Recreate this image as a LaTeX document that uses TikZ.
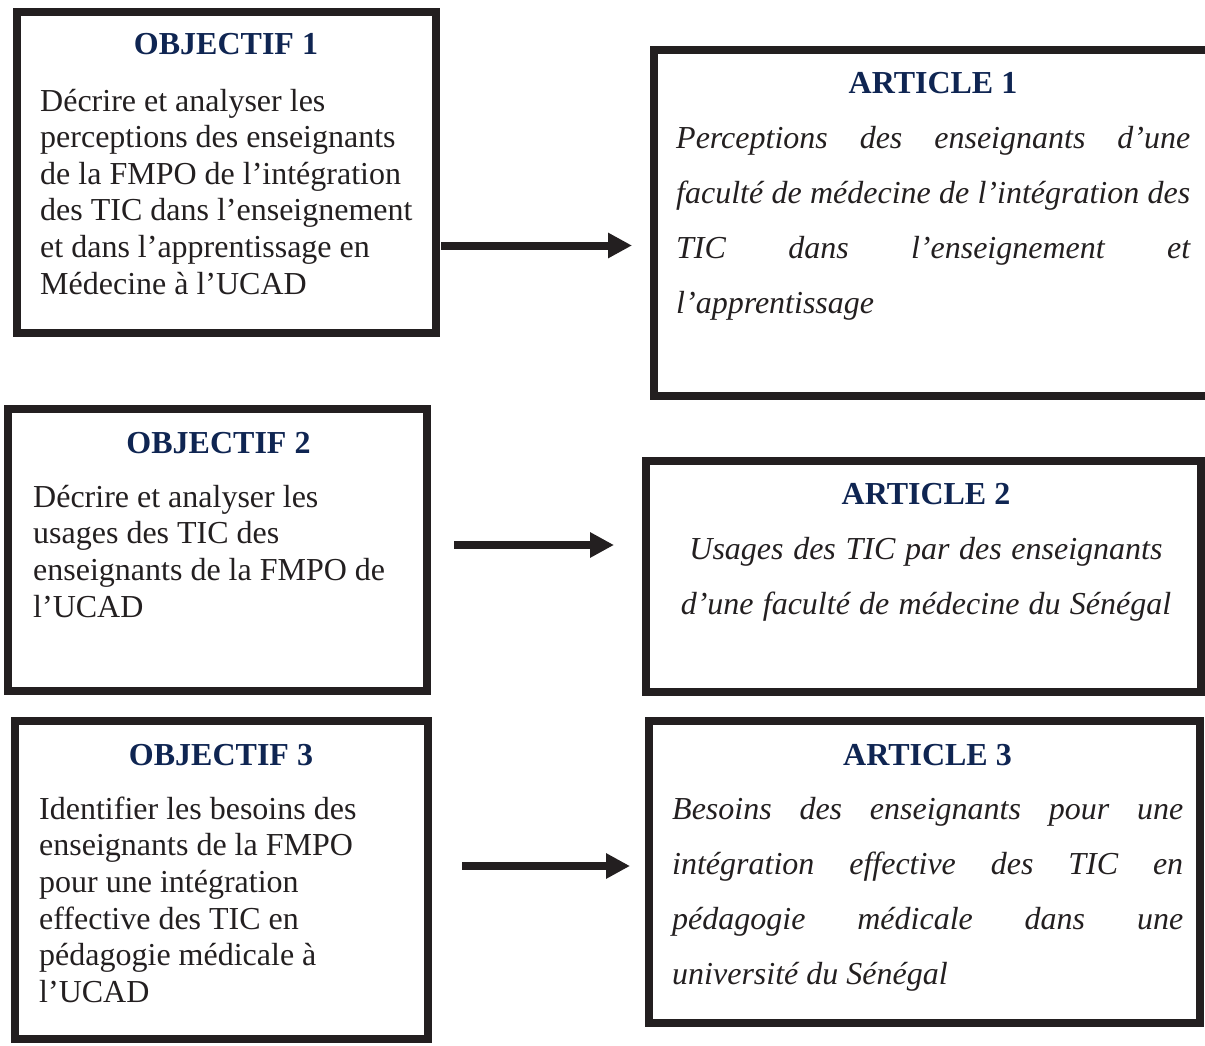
\documentclass[tikz,border=0pt]{standalone}
\usepackage{fontspec}
\setmainfont{Liberation Serif}
\usetikzlibrary{arrows.meta}
\definecolor{boxline}{HTML}{231F20}
\definecolor{titleblue}{HTML}{0F2552}
\tikzset{
  box/.style={rectangle, draw=boxline, line width=8pt, inner sep=0pt},
  boxtitle/.style={anchor=base, inner sep=0pt, text=titleblue,
    font=\fontsize{32pt}{36.6pt}\selectfont\bfseries},
  objtext/.style={anchor=north west, inner sep=0pt, text=boxline, text width=390pt,
    align=left, font=\fontsize{32pt}{36.6pt}\selectfont,
    execute at begin node={\spaceskip=.25em plus .1em\xspaceskip=.25em\rule{0pt}{24pt}}},
  arttext/.style={anchor=north west, inner sep=0pt, text=boxline, align=justify,
    font=\fontsize{32pt}{55pt}\selectfont\itshape,
    execute at begin node={\tolerance=10000\hbadness=10000\spaceskip=.25em plus .1em\rule{0pt}{24pt}}},
  link/.style={draw=boxline, line width=8pt, -{Triangle[length=24pt,width=24pt]}}
}
\begin{document}
\begin{tikzpicture}[x=1pt,y=-1pt]
  \useasboundingbox (0,0) rectangle (1205,1046);
  \clip (0,0) rectangle (1205,1046);

  % Boxes
  \node[box, minimum width=419.5pt, minimum height=321pt] (obj1) at (226.25,172.5) {};
  \node[box, minimum width=558.5pt, minimum height=345pt] (art1) at (932.75,223) {};
  \node[box, minimum width=419pt, minimum height=282pt] (obj2) at (217.5,550) {};
  \node[box, minimum width=555.5pt, minimum height=230.5pt] (art2) at (923.25,576.25) {};
  \node[box, minimum width=413pt, minimum height=318pt] (obj3) at (221,880) {};
  \node[box, minimum width=551pt, minimum height=302pt] (art3) at (924.5,872) {};

  % Titles
  \node[boxtitle] (obj1t) at (226,55) {OBJECTIF 1};
  \node[boxtitle] (art1t) at (933,94) {ARTICLE 1};
  \node[boxtitle] (obj2t) at (218.5,453) {OBJECTIF 2};
  \node[boxtitle] (art2t) at (926,504) {ARTICLE 2};
  \node[boxtitle] (obj3t) at (221,765) {OBJECTIF 3};
  \node[boxtitle] (art3t) at (927.5,765) {ARTICLE 3};

  % Objectives
  \node[objtext] (obj1b) at (40,87) {Décrire et analyser les\\
    perceptions des enseignants\\ de la FMPO de l’intégration\\
    des TIC dans l’enseignement\\ et dans l’apprentissage en\\ Médecine à l’UCAD};
  \node[objtext] (obj2b) at (33,483) {Décrire et analyser les\\
    usages des TIC des\\ enseignants de la FMPO de\\ l’UCAD};
  \node[objtext] (obj3b) at (39,795) {Identifier les besoins des\\
    enseignants de la FMPO\\ pour une intégration\\ effective des TIC en\\
    pédagogie médicale à\\ l’UCAD};

  % Articles
  \node[arttext, text width=514pt] (art1b) at (676,124) {Perceptions des enseignants d’une\linebreak
    faculté de médecine de l’intégration des\linebreak TIC dans l’enseignement et\linebreak
    l’apprentissage};
  \node[arttext, anchor=north, align=center, text width=540pt] (art2b) at (926,535)
    {Usages des TIC par des enseignants\\ d’une faculté de médecine du Sénégal};
  \node[arttext, text width=511pt] (art3b) at (672,795) {Besoins des enseignants pour une\linebreak
    intégration effective des TIC en\linebreak pédagogie médicale dans une\linebreak
    université du Sénégal};

  % Arrows
  \coordinate (a1s) at (441,245.5);
  \coordinate (a1e) at (632,245.5);
  \coordinate (a2s) at (454,545);
  \coordinate (a2e) at (614,545);
  \coordinate (a3s) at (462,866);
  \coordinate (a3e) at (630,866);
  \draw[link] (a1s) -- (a1e);
  \draw[link] (a2s) -- (a2e);
  \draw[link] (a3s) -- (a3e);
\end{tikzpicture}
\end{document}
